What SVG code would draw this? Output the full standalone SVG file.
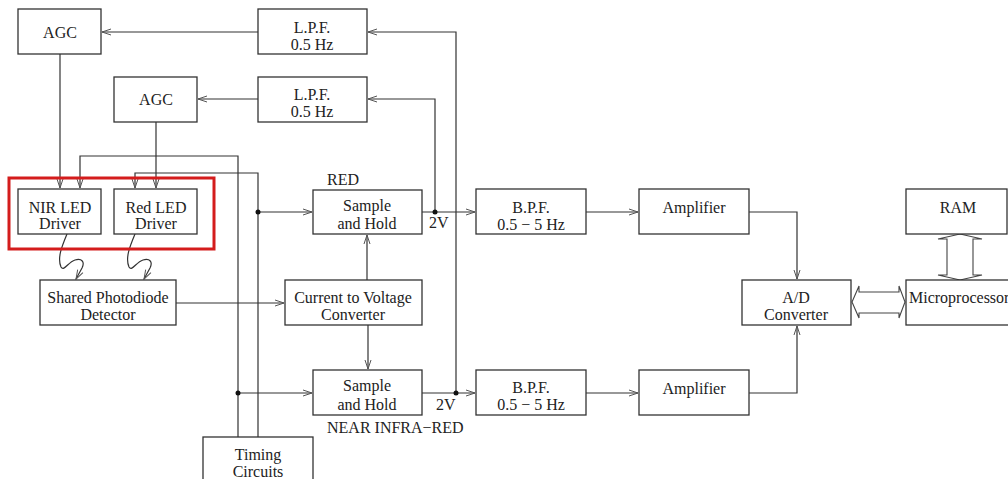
<svg xmlns="http://www.w3.org/2000/svg" width="1008" height="479" viewBox="0 0 1008 479">
<defs>
<marker id="ah" viewBox="-10 -4 12 8" refX="0" refY="0" markerWidth="12" markerHeight="8" markerUnits="userSpaceOnUse" orient="auto">
<path d="M-9,-3 L0,0 L-9,3" fill="none" stroke="#555" stroke-width="1"/>
</marker>
</defs>
<style>
.box{fill:#fff;stroke:#333;stroke-width:1.3}
.t{font-family:"Liberation Serif","Times New Roman",serif;font-size:16px;fill:#222;text-anchor:middle}
.tl{font-family:"Liberation Serif","Times New Roman",serif;font-size:16px;fill:#222}
.c{fill:none;stroke:#333;stroke-width:1.2}
.a{marker-end:url(#ah)}
.dot{fill:#111}
.dbl{fill:#fff;stroke:#444;stroke-width:1.1}
</style>
<rect width="1008" height="479" fill="#fff"/>
<g id="connectors">
<path class="c a" d="M258,32 H102"/>
<path class="c a" d="M258,99 H198"/>
<path class="c a" d="M60,54 V188"/>
<path class="c a" d="M156,122 V188"/>
<path class="c a" d="M238,437 V156 H80 V188"/>
<path class="c a" d="M258,437 V173 H135 V188"/>
<path class="c a" d="M258,212 H312"/>
<path class="c a" d="M238,393 H312"/>
<path class="c a" d="M176,303 H284"/>
<path class="c a" d="M367,280 V235"/>
<path class="c a" d="M368,325 V369"/>
<path class="c a" d="M422,212 H475"/>
<path class="c a" d="M422,393 H475"/>
<path class="c a" d="M435,212 V99 H368"/>
<path class="c a" d="M456,393 V32 H368"/>
<path class="c a" d="M586,212 H638"/>
<path class="c a" d="M586,393 H638"/>
<path class="c a" d="M749,212 H797 V279"/>
<path class="c a" d="M749,393 H797 V326"/>
<path class="c a" d="M67,234 C62,246 57,258 61,267 C64,272 68,262 75,260 C82,258 85,262 82,268 L76,279"/>
<path class="c a" d="M135,234 C130,246 125,258 129,267 C132,272 136,262 143,260 C150,258 153,262 150,268 L144,279"/>
<circle class="dot" cx="258" cy="212" r="2.5"/>
<circle class="dot" cx="238" cy="393" r="2.5"/>
<circle class="dot" cx="435" cy="212" r="2.5"/>
<circle class="dot" cx="456" cy="393" r="2.5"/>
<polygon class="dbl" points="852,302 859,286 859,292 899,292 899,286 905,302 899,318 899,313 859,313 859,318"/>
<polygon class="dbl" points="960,234 982,239 973,239 973,275 982,275 960,280 938,275 947,275 947,239 938,239"/>
</g>
<g id="agc1"><rect class="box" x="18" y="9" width="83" height="45"/><text class="t" x="60" y="38">AGC</text></g>
<g id="agc2"><rect class="box" x="114" y="77" width="83" height="45"/><text class="t" x="156" y="105">AGC</text></g>
<g id="lpf1"><rect class="box" x="258" y="9" width="109" height="45"/><text class="t" x="312" y="33">L.P.F.</text><text class="t" x="312" y="50">0.5 Hz</text></g>
<g id="lpf2"><rect class="box" x="258" y="77" width="109" height="45"/><text class="t" x="312" y="100">L.P.F.</text><text class="t" x="312" y="117">0.5 Hz</text></g>
<g id="highlight"><rect x="9" y="178" width="205" height="71" fill="none" stroke="#d41c1c" stroke-width="3"/></g>
<g id="nir-led"><rect class="box" x="18" y="189" width="83" height="45"/><text class="t" x="60" y="213">NIR LED</text><text class="t" x="60" y="229">Driver</text></g>
<g id="red-led"><rect class="box" x="114" y="189" width="83" height="45"/><text class="t" x="156" y="213">Red LED</text><text class="t" x="156" y="229">Driver</text></g>
<g id="photodiode"><rect class="box" x="40" y="280" width="136" height="45"/><text class="t" x="108" y="303">Shared Photodiode</text><text class="t" x="108" y="320">Detector</text></g>
<g id="red-sh"><text class="tl" x="327" y="185">RED</text><rect class="box" x="313" y="190" width="109" height="44"/><text class="t" x="367" y="211">Sample</text><text class="t" x="367" y="229">and Hold</text><text class="tl" x="429" y="228">2V</text></g>
<g id="cv"><rect class="box" x="285" y="280" width="137" height="45"/><text class="t" x="353" y="303">Current to Voltage</text><text class="t" x="353" y="320">Converter</text></g>
<g id="nir-sh"><rect class="box" x="313" y="370" width="109" height="45"/><text class="t" x="367" y="391">Sample</text><text class="t" x="367" y="410">and Hold</text><text class="tl" x="436" y="410">2V</text><text class="tl" x="327" y="433">NEAR INFRA−RED</text></g>
<g id="timing"><rect class="box" x="203" y="437" width="110" height="50"/><text class="t" x="258" y="460">Timing</text><text class="t" x="258" y="477">Circuits</text></g>
<g id="bpf1"><rect class="box" x="476" y="189" width="110" height="45"/><text class="t" x="531" y="213">B.P.F.</text><text class="t" x="531" y="230">0.5 − 5 Hz</text></g>
<g id="bpf2"><rect class="box" x="476" y="370" width="110" height="45"/><text class="t" x="531" y="393">B.P.F.</text><text class="t" x="531" y="410">0.5 − 5 Hz</text></g>
<g id="amp1"><rect class="box" x="639" y="189" width="110" height="45"/><text class="t" x="694" y="213">Amplifier</text></g>
<g id="amp2"><rect class="box" x="639" y="370" width="110" height="45"/><text class="t" x="694" y="394">Amplifier</text></g>
<g id="adc"><rect class="box" x="742" y="280" width="109" height="45"/><text class="t" x="796" y="303">A/D</text><text class="t" x="796" y="320">Converter</text></g>
<g id="ram"><rect class="box" x="906" y="189" width="101" height="45"/><text class="t" x="958" y="213">RAM</text></g>
<g id="micro"><rect class="box" x="906" y="280" width="110" height="45"/><text class="tl" x="909" y="303">Microprocessor</text></g>
</svg>
